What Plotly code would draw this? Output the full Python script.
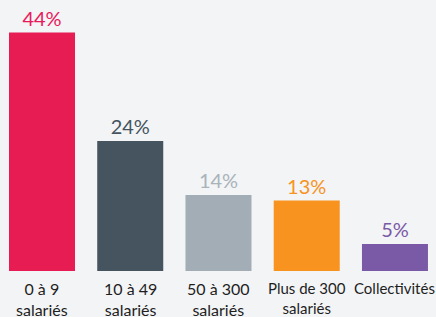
import plotly.graph_objects as go

categories = ["0 à 9<br>salariés", "10 à 49<br>salariés", "50 à 300<br>salariés",
              "Plus de 300<br>salariés", "Collectivités"]
category_sizes = [16, 16, 16, 15, 15]
values = [44, 24, 14, 13, 5]
labels = ["44%", "24%", "14%", "13%", "5%"]
bar_colors = ["#E61C52", "#45545F", "#A2ADB5", "#F7931E", "#7A5AA6"]
text_colors = ["#E8195A", "#45545F", "#A9B3BA", "#F7931E", "#7A5AA6"]

xs = list(range(len(categories)))

fig = go.Figure(go.Bar(
    x=xs,
    y=values,
    text=labels,
    textposition="outside",
    textfont=dict(family="Lato", size=20, color=text_colors),
    marker=dict(color=bar_colors, line=dict(width=0)),
    cliponaxis=False,
    hoverinfo="skip",
))

for x, cat, sz in zip(xs, categories, category_sizes):
    fig.add_annotation(
        x=x, y=0, xref="x", yref="paper",
        text=cat, showarrow=False,
        xanchor="center", yanchor="top", yshift=-6,
        font=dict(family="Lato", size=sz, color="#1E1E1E"),
        align="center",
    )

fig.update_layout(
    width=436, height=317,
    margin=dict(l=0, r=0, t=0, b=46, autoexpand=False),
    paper_bgcolor="#F3F4F6",
    plot_bgcolor="#F3F4F6",
    bargap=0.252,
    showlegend=False,
    xaxis=dict(
        range=[-0.476, 4.465],
        showticklabels=False,
        showgrid=False, zeroline=False, showline=False, ticks="",
        automargin=False,
    ),
    yaxis=dict(range=[0, 50], visible=False, automargin=False),
)

fig.write_html(
    "out.html",
    config={"displayModeBar": False},
    post_script="document.body.style.margin='0';document.body.style.background='#F3F4F6';",
)
